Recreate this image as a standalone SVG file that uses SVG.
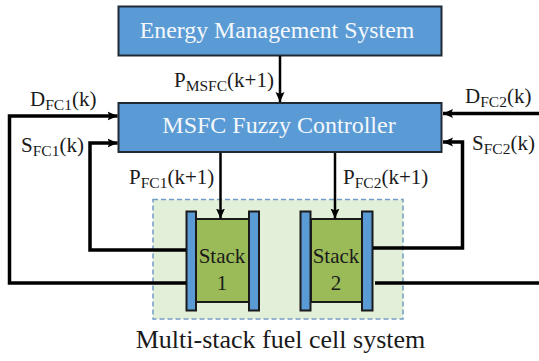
<svg xmlns="http://www.w3.org/2000/svg" width="539" height="361" viewBox="0 0 539 361">
<defs>
<marker id="a" markerUnits="userSpaceOnUse" markerWidth="12" markerHeight="12" refX="10" refY="5" orient="auto"><path d="M0 0.500L10 5L0 9.500L2 5Z" fill="#000"/></marker>
</defs>
<style>
text{font-family:"Liberation Serif","Times New Roman",serif;fill:#1a1a1a}
.box{fill:#5b9bd5;stroke:#1f2a33;stroke-width:2}
.plate{fill:#5b9bd5;stroke:#1a1a1a;stroke-width:2}
.core{fill:#9bbb59;stroke:#1a1a1a;stroke-width:2}
.w{fill:#f4f8fc;text-anchor:middle}
.l{font-size:21px}
.s{font-size:15.500px}
.st{font-size:21px;text-anchor:middle}
.c{fill:none;stroke:#000;stroke-width:2.500}
.t{fill:none;stroke:#000;stroke-width:3.500}
</style>
<g id="system"><rect x="153" y="199.500" width="250" height="119.500" fill="#e2efd9" stroke="#6f9fc4" stroke-width="1.500" stroke-dasharray="5 3"/></g>
<g id="ems"><rect class="box" x="118.500" y="6.500" width="323" height="49"/><text class="w" x="277" y="38" font-size="23.800">Energy Management System</text></g>
<g id="controller"><rect class="box" x="118.500" y="103" width="323" height="49"/><text class="w" x="279" y="133" font-size="24">MSFC Fuzzy Controller</text></g>
<g id="stack1"><rect class="core" x="196" y="219" width="53" height="83"/><rect class="plate" x="186.500" y="211.500" width="9.500" height="99"/><rect class="plate" x="249" y="211.500" width="10" height="99"/><text class="st" x="222" y="263">Stack</text><text class="st" x="222" y="290">1</text></g>
<g id="stack2"><rect class="core" x="311" y="219" width="52" height="83"/><rect class="plate" x="300.500" y="211.500" width="10" height="99"/><rect class="plate" x="362" y="211.500" width="10.500" height="99"/><text class="st" x="336" y="263">Stack</text><text class="st" x="336" y="290">2</text></g>
<g id="connectors">
<path class="c" d="M280 56V102" marker-end="url(#a)"/>
<path class="c" d="M220.500 153V218.500" marker-end="url(#a)"/>
<path class="c" d="M335 153V218.500" marker-end="url(#a)"/>
<path class="t" d="M186 283H9.500V116H117.500" marker-end="url(#a)"/>
<path class="t" d="M186 250H90V143H117.500" marker-end="url(#a)"/>
<path class="t" d="M539 113.500H443" marker-end="url(#a)"/>
<path class="t" d="M373 248H462.500V142H443" marker-end="url(#a)"/>
<path class="t" d="M375 283H539"/>
</g>
<g id="labels">
<text class="l" x="174" y="87">P<tspan class="s" dy="4">MSFC</tspan><tspan dy="-4">(k+1)</tspan></text>
<text class="l" x="30" y="106">D<tspan class="s" dy="4">FC1</tspan><tspan dy="-4">(k)</tspan></text>
<text class="l" x="21" y="152">S<tspan class="s" dy="4">FC1</tspan><tspan dy="-4">(k)</tspan></text>
<text class="l" x="129" y="184">P<tspan class="s" dy="4">FC1</tspan><tspan dy="-4">(k+1)</tspan></text>
<text class="l" x="343" y="184">P<tspan class="s" dy="4">FC2</tspan><tspan dy="-4">(k+1)</tspan></text>
<text class="l" x="465" y="103">D<tspan class="s" dy="4">FC2</tspan><tspan dy="-4">(k)</tspan></text>
<text class="l" x="472" y="150">S<tspan class="s" dy="4">FC2</tspan><tspan dy="-4">(k)</tspan></text>
<text x="280.500" y="348" font-size="26" text-anchor="middle">Multi-stack fuel cell system</text>
</g>
</svg>
